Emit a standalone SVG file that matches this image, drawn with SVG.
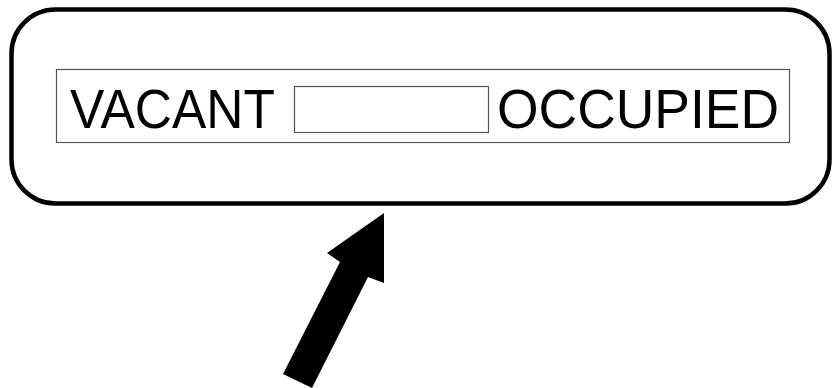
<svg xmlns="http://www.w3.org/2000/svg" width="833" height="388" viewBox="0 0 833 388">
<style>
.lbl{font-family:"Liberation Sans",Arial,sans-serif;font-size:55px;fill:#000}
.thin{fill:#fff;stroke:#555;stroke-width:1.2}
</style>
<rect width="833" height="388" fill="#fff"/>
<g id="sign">
<rect x="11.5" y="9.5" width="818" height="194" rx="44" ry="44" fill="#fff" stroke="#000" stroke-width="4.5"/>
</g>
<g id="indicator">
<rect class="thin" x="56.5" y="69.5" width="733" height="73"/>
<rect class="thin" x="294.5" y="86.5" width="194" height="46"/>
<text class="lbl" x="70" y="128" textLength="205" lengthAdjust="spacingAndGlyphs">VACANT</text>
<text class="lbl" x="497" y="128" textLength="282" lengthAdjust="spacingAndGlyphs">OCCUPIED</text>
</g>
<g id="connectors">
<polygon points="384,213 327,253 340,262 283,374 312,388 368,277 384,283" fill="#000"/>
</g>
</svg>
